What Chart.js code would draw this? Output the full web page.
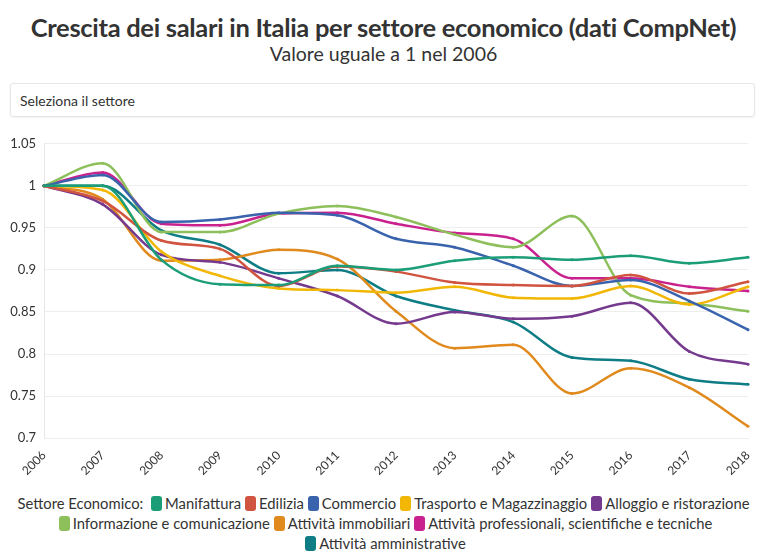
<!DOCTYPE html>
<html>
<head>
<meta charset="utf-8">
<script src="https://cdn.jsdelivr.net/npm/chart.js@4"></script>
<style>
  body { margin: 0; background: #fff; font-family: Lato, "Noto Sans", sans-serif; color: #333; }
  .wrap { position: relative; width: 767px; height: 554px; overflow: hidden; }
  h1 { position: absolute; top: 12px; left: 0; width: 767px; margin: 0; text-align: center;
       font-size: 25.5px; font-weight: 700; letter-spacing: -0.3px; }
  h2 { position: absolute; top: 42px; left: 0; width: 767px; margin: 0; text-align: center;
       font-size: 19.5px; font-weight: 400; }
  .select { position: absolute; left: 10px; top: 83px; width: 745px; height: 34px;
            border: 1px solid #e6e6e6; border-radius: 3px; box-shadow: 0 1px 2px rgba(0,0,0,0.05);
            font-size: 14px; line-height: 34px; padding-left: 9px; box-sizing: border-box; }
  .chart-box { position: absolute; left: 0; top: 128px; width: 767px; height: 352px; }
  .legend { position: absolute; left: 0; top: 493px; width: 767px; text-align: center;
            font-size: 14.8px; line-height: 20px; }
  .legend .row { white-space: nowrap; }
  .legend .sw { display: inline-block; width: 11px; height: 15px; border-radius: 3px;
                vertical-align: -2px; margin: 0 3px 0 4px; }
</style>
</head>
<body>
<div class="wrap">
  <h1>Crescita dei salari in Italia per settore economico (dati CompNet)</h1>
  <h2>Valore uguale a 1 nel 2006</h2>
  <div class="select">Seleziona il settore</div>
  <div class="chart-box"><canvas id="chart"></canvas></div>
  <div class="legend" id="legend"></div>
</div>
<script>
const years = ["2006","2007","2008","2009","2010","2011","2012","2013","2014","2015","2016","2017","2018"];
const yTicks = [0.7, 0.75, 0.8, 0.85, 0.9, 0.95, 1, 1.05];

const manifattura   = [1, 1.000, 0.912, 0.883, 0.882, 0.905, 0.900, 0.911, 0.915, 0.912, 0.917, 0.908, 0.915];
const edilizia      = [1, 0.982, 0.935, 0.925, 0.881, 0.904, 0.898, 0.885, 0.882, 0.881, 0.894, 0.872, 0.886];
const commercio     = [1, 1.013, 0.957, 0.960, 0.968, 0.965, 0.937, 0.927, 0.905, 0.881, 0.888, 0.863, 0.829];
const trasporto     = [1, 0.995, 0.922, 0.893, 0.878, 0.876, 0.873, 0.880, 0.867, 0.866, 0.881, 0.859, 0.880];
const alloggio      = [1, 0.978, 0.918, 0.909, 0.890, 0.869, 0.836, 0.850, 0.842, 0.845, 0.861, 0.803, 0.788];
const informazione  = [1, 1.027, 0.945, 0.945, 0.967, 0.976, 0.963, 0.942, 0.927, 0.964, 0.870, 0.860, 0.851];
const immobiliari   = [1, 0.984, 0.911, 0.912, 0.924, 0.913, 0.851, 0.807, 0.811, 0.753, 0.783, 0.760, 0.714];
const professionali = [1, 1.016, 0.955, 0.953, 0.967, 0.968, 0.955, 0.944, 0.937, 0.890, 0.890, 0.880, 0.875];
const amministrative= [1, 1.000, 0.947, 0.930, 0.896, 0.900, 0.869, 0.852, 0.838, 0.796, 0.792, 0.770, 0.764];

const sectors = [
  { label: "Manifattura", data: manifattura, color: "#1b9e77" },
  { label: "Edilizia", data: edilizia, color: "#d0543f" },
  { label: "Commercio", data: commercio, color: "#3a63ad" },
  { label: "Trasporto e Magazzinaggio", data: trasporto, color: "#f2b705" },
  { label: "Alloggio e ristorazione", data: alloggio, color: "#75398d" },
  { label: "Informazione e comunicazione", data: informazione, color: "#8dbf5b" },
  { label: "Attività immobiliari", data: immobiliari, color: "#e08a1e" },
  { label: "Attività professionali, scientifiche e tecniche", data: professionali, color: "#c9218e" },
  { label: "Attività amministrative", data: amministrative, color: "#0f7d85" }
];
const legendRows = [[0, 1, 2, 3, 4], [5, 6, 7], [8]];

// legenda html
const legend = document.getElementById("legend");
legendRows.forEach((row, i) => {
  const div = document.createElement("div");
  div.className = "row";
  let html = i === 0 ? "Settore Economico: " : "";
  row.forEach((k) => {
    const s = sectors[k];
    html += `<span class="sw" style="background:${s.color}"></span>${s.label}`;
  });
  div.innerHTML = html;
  legend.appendChild(div);
});

new Chart(document.getElementById("chart"), {
  type: "line",
  data: {
    labels: years,
    datasets: sectors.map((s) => ({
      label: s.label,
      data: s.data,
      borderColor: s.color,
      backgroundColor: s.color,
      borderWidth: 2.5,
      pointRadius: 1.5,
      pointBorderWidth: 0,
      cubicInterpolationMode: "monotone",
      fill: false,
    })),
  },
  options: {
    responsive: true,
    maintainAspectRatio: false,
    animation: false,
    layout: { padding: { left: 0, right: 19, top: 0, bottom: 0 } },
    plugins: { legend: { display: false }, tooltip: { enabled: false } },
    scales: {
      x: {
        grid: { display: false },
        border: { color: "#eeeeee" },
        ticks: { color: "#333", font: { family: "Lato", size: 12 }, minRotation: 45, maxRotation: 45, padding: 2 },
      },
      y: {
        min: 0.7,
        max: 1.05,
        afterBuildTicks: (axis) => { axis.ticks = yTicks.map((v) => ({ value: v })); },
        afterFit: (axis) => { axis.width = 44; },
        grid: { color: "#eeeeee", drawTicks: false },
        border: { color: "#e6e6e6" },
        ticks: { color: "#333", font: { family: "Lato", size: 13 }, padding: 8, callback: (v) => String(v) },
      },
    },
  },
});
</script>
</body>
</html>
